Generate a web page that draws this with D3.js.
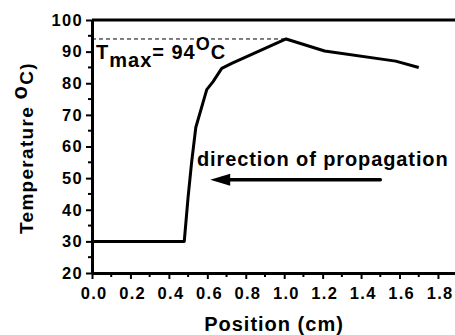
<html>
<head>
    <style>
        body { margin: 0; background: white; }
        svg { font-family: 'Liberation Sans', Arial, sans-serif; font-weight: bold; }
    </style>
    <script src="https://cdn.jsdelivr.net/npm/d3@7"></script>
</head>
<body>
<div id="chart"></div>
<script>
    // profile data
    var positions = [0, 0.48, 0.50, 0.518, 0.54, 0.597, 0.63, 0.675, 0.727, 1.01, 1.21, 1.58, 1.70];
    var temps     = [30, 30,   44,   54.8,  66,   78,    80.5, 84.7,  86.3,  94,   90.2, 87,   85];
    var xTicks = [0, 0.2, 0.4, 0.6, 0.8, 1.0, 1.2, 1.4, 1.6, 1.8];
    var yTicks = [20, 30, 40, 50, 60, 70, 80, 90, 100];
    var tMax = 94;
    var arrowFrom = [1.50, 49.5], arrowTo = [0.615, 49.5];

    var width = 455, height = 335;
    var plotLeft = 92, plotTop = 20, plotBottom = 273;

    var x = d3.scaleLinear().domain([0, 1.9]).range([plotLeft, plotLeft + 192.2 * 1.9]);
    var y = d3.scaleLinear().domain([20, 100]).range([plotBottom, plotTop]);

    var svg = d3.select('#chart').append('svg')
        .attr('width', width)
        .attr('height', height);

    // minor ticks
    var xMinor = d3.range(0.1, 1.9, 0.2);
    var yMinor = d3.range(25, 100, 10);

    svg.selectAll('.xminor').data(xMinor).enter().append('line')
        .attr('x1', function(d) { return x(d); }).attr('x2', function(d) { return x(d); })
        .attr('y1', plotBottom).attr('y2', plotBottom + 4)
        .attr('stroke', 'black').attr('stroke-width', 2);
    svg.selectAll('.yminor').data(yMinor).enter().append('line')
        .attr('x1', plotLeft - 4).attr('x2', plotLeft)
        .attr('y1', function(d) { return y(d); }).attr('y2', function(d) { return y(d); })
        .attr('stroke', 'black').attr('stroke-width', 2);

    var xAxis = svg.append('g')
        .attr('transform', 'translate(0,' + plotBottom + ')')
        .call(d3.axisBottom(x).tickValues(xTicks).tickSize(6).tickSizeOuter(0).tickFormat(d3.format('.1f')));
    var yAxis = svg.append('g')
        .attr('transform', 'translate(' + plotLeft + ',0)')
        .call(d3.axisLeft(y).tickValues(yTicks).tickSize(6).tickSizeOuter(0));

    [xAxis, yAxis].forEach(function(g) {
        g.select('.domain').attr('stroke-width', 3);
        g.selectAll('.tick line').attr('stroke-width', 2);
        g.selectAll('.tick text').attr('font-size', 16.5).attr('font-weight', 'bold')
            .attr('letter-spacing', 1.3)
            .attr('font-family', "'Liberation Sans', Arial, sans-serif").attr('fill', 'black');
    });
    xAxis.selectAll('.tick text').attr('dy', '1.05em').attr('dx', '0.1em');
    yAxis.selectAll('.tick text').attr('dx', '0em');

    // top frame line
    svg.append('line')
        .attr('x1', plotLeft).attr('x2', width)
        .attr('y1', y(100)).attr('y2', y(100))
        .attr('stroke', 'black').attr('stroke-width', 3);

    // Tmax dashed line
    svg.append('line')
        .attr('x1', plotLeft).attr('x2', x(1.01))
        .attr('y1', y(tMax)).attr('y2', y(tMax))
        .attr('stroke', 'black').attr('stroke-width', 1)
        .attr('stroke-dasharray', '4,3');

    var line = d3.line()
        .x(function(d, i) { return x(positions[i]); })
        .y(function(d) { return y(d); });

    svg.append('path')
        .datum(temps)
        .attr('d', line)
        .attr('fill', 'none')
        .attr('stroke', 'black')
        .attr('stroke-width', 3)
        .attr('stroke-linejoin', 'round');

    // arrow
    svg.append('line')
        .attr('x1', x(arrowFrom[0])).attr('y1', y(arrowFrom[1]))
        .attr('x2', x(arrowTo[0]) + 10).attr('y2', y(arrowTo[1]))
        .attr('stroke', 'black').attr('stroke-width', 3.5)
        .attr('stroke-linecap', 'round');
    svg.append('path')
        .attr('d', 'M' + x(arrowTo[0]) + ',' + y(arrowTo[1]) + ' l20,-6 l0,12 Z')
        .attr('fill', 'black');

    svg.append('text')
        .attr('x', 197).attr('y', 166)
        .attr('font-size', 20)
        .attr('letter-spacing', 0.9)
        .text('direction of propagation');

    // Tmax label
    var tl = svg.append('text').attr('x', 96).attr('y', 59).attr('font-size', 20).attr('letter-spacing', 1);
    tl.append('tspan').text('T');
    tl.append('tspan').attr('dy', 8).attr('font-size', 20).text('max');
    tl.append('tspan').attr('dy', -8).text('= 94');
    tl.append('tspan').attr('dy', -9).attr('font-size', 18).text('O');
    tl.append('tspan').attr('dy', 9).text('C');

    // axis titles
    svg.append('text')
        .attr('x', 274).attr('y', 331)
        .attr('text-anchor', 'middle')
        .attr('font-size', 20)
        .attr('letter-spacing', 1)
        .text('Position (cm)');

    var yl = svg.append('text')
        .attr('transform', 'translate(33,148) rotate(-90)')
        .attr('text-anchor', 'middle')
        .attr('font-size', 19)
        .attr('letter-spacing', 1.3);
    yl.append('tspan').text('Temperature ');
    yl.append('tspan').attr('dy', -6).attr('font-size', 22).text('o');
    yl.append('tspan').attr('dy', 6).text('C)');
</script>
</body>
</html>
